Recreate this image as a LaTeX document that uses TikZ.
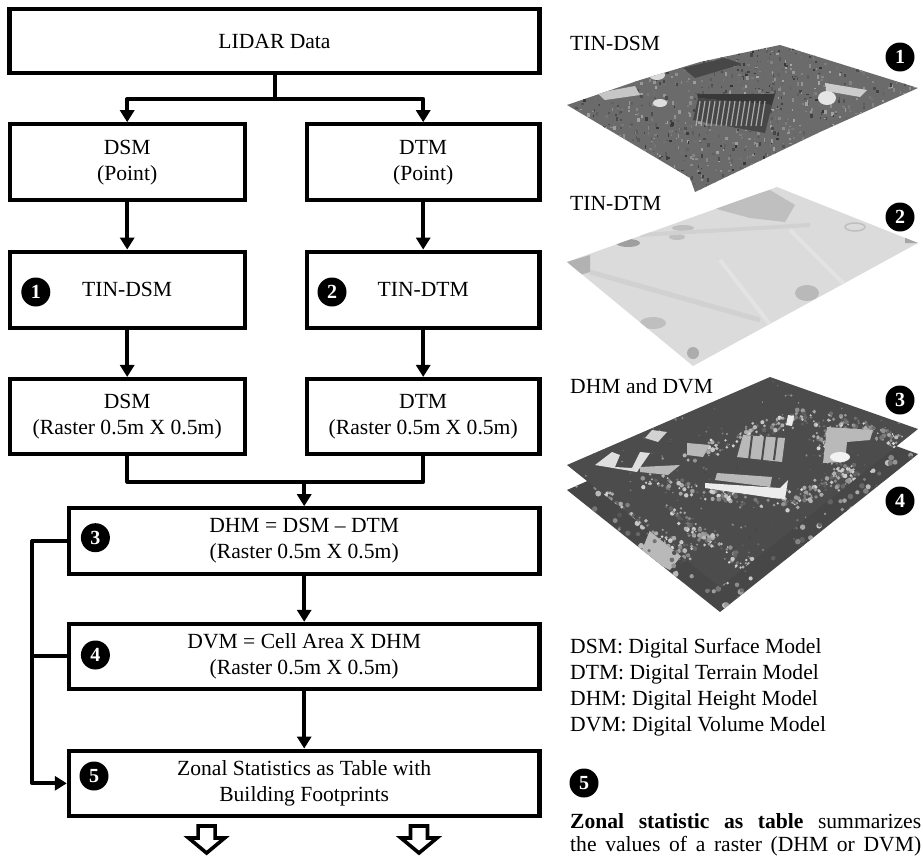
\documentclass[tikz,border=0pt]{standalone}
\usepackage{fontspec}
\setmainfont{Liberation Serif}
\usetikzlibrary{arrows.meta, positioning}

\begin{document}
\begin{tikzpicture}[x=1pt, y=-1pt,
    stepbox/.style={draw, line width=4.2pt, align=center, inner sep=0pt,
      font=\fontsize{21.6}{26}\selectfont},
    badge/.style={circle, fill=black, text=white, inner sep=0pt, minimum size=29pt,
      font=\fontsize{20}{20}\selectfont\bfseries},
    caption/.style={anchor=west, inner sep=0pt, align=left,
      font=\fontsize{21.6}{26}\selectfont},
    link/.style={line width=4pt, line join=round},
    flow/.style={link, -{Triangle[width=14pt, length=12pt]}},
    hollow/.style={draw=black, line width=3.6pt, fill=white, line join=miter}]
  \useasboundingbox (0,0) rectangle (923,857);
  % Boxes
  \node[stepbox, minimum width=530pt, minimum height=63.7pt] (lidar) at (274.5,41) {LIDAR Data};
  \node[stepbox, minimum width=235.2pt, minimum height=76pt] (dsmpoint) at (127.2,162.3) {DSM\\(Point)};
  \node[stepbox, minimum width=232.7pt, minimum height=76pt] (dtmpoint) at (423.2,162.3) {DTM\\(Point)};
  \node[stepbox, minimum width=235.2pt, minimum height=76pt] (tindsm) at (127.2,289.7) {TIN-DSM};
  \node[stepbox, minimum width=232.7pt, minimum height=76pt] (tindtm) at (423.2,289.7) {TIN-DTM};
  \node[stepbox, minimum width=235.2pt, minimum height=75.3pt] (dsmraster) at (127.2,416.7) {DSM\\(Raster 0.5m X 0.5m)};
  \node[stepbox, minimum width=232.7pt, minimum height=75.3pt] (dtmraster) at (423.2,416.7) {DTM\\(Raster 0.5m X 0.5m)};
  \node[stepbox, minimum width=470.6pt, minimum height=65.4pt] (dhm) at (304.2,541) {DHM = DSM -- DTM\\(Raster 0.5m X 0.5m)};
  \node[stepbox, minimum width=470.6pt, minimum height=64.7pt] (dvm) at (304.2,656.3) {DVM = Cell Area X DHM\\(Raster 0.5m X 0.5m)};
  \node[stepbox, minimum width=470.6pt, minimum height=65.3pt] (zonal) at (304.2,783.3) {Zonal Statistics as Table with\\Building Footprints};
  % Badges in the boxes
  \node[badge] (numA) at (35.8,292) {1};
  \node[badge] (numB) at (332,292) {2};
  \node[badge] (numC) at (95.4,537.7) {3};
  \node[badge] (numD) at (95.4,655) {4};
  \node[badge] (numE) at (94,776) {5};
  % Connectors
  \coordinate (split) at (274.5,99);
  \coordinate (merge) at (304.2,481.7);
  \coordinate (busTop) at (32.4,541);
  \coordinate (busEnd) at (32.4,783.3);
  \draw[link] (lidar) -- (split);
  \draw[flow] (split) -| (dsmpoint);
  \draw[flow] (split) -| (dtmpoint);
  \draw[flow] (dsmpoint) -- (tindsm);
  \draw[flow] (dtmpoint) -- (tindtm);
  \draw[flow] (tindsm) -- (dsmraster);
  \draw[flow] (tindtm) -- (dtmraster);
  \draw[link] (dsmraster) |- (merge);
  \draw[link] (dtmraster) |- (merge);
  \draw[flow] (merge) -- (dhm);
  \draw[flow] (dhm) -- (dvm);
  \draw[flow] (dvm) -- (zonal);
  \draw[flow] (dhm.west) -- (busTop) -- (busEnd) -- (zonal.west);
  \draw[link] (dvm.west) -- (dvm.west -| busTop);
  % Hollow arrows under the last box
  \foreach \x in {206.6,419}
    \draw[hollow] (\x-8.5,826) -- (\x+8.5,826) -- (\x+8.5,838) -- (\x+18,838)
      -- (\x,853) -- (\x-18,838) -- (\x-8.5,838) -- cycle;
  % TIN-DSM map
  \pgfmathsetseed{11}
  \begin{scope}
    \clip (567,105) -- (640,80) -- (700,62) -- (780,45) -- (918,88) -- (820,132) -- (695,192) -- (690,178) -- cycle;
    \fill[black!58] (560,40) rectangle (925,195);
    \foreach \i in {1,...,1400} {
      \pgfmathtruncatemacro\shade{35+rnd*45}
      \fill[black!\shade] (567+351*rnd,45+147*rnd) rectangle ++(1+2*rnd,1+3*rnd);
    }
    \fill[black!72] (683,68) -- (725,58) -- (742,64) -- (695,78) -- cycle;
    \fill[gray!40] (825,83) -- (867,90) -- (860,97) -- (826,91) -- cycle;
    \fill[gray!45] (597,93) -- (635,86) -- (640,95) -- (605,100) -- cycle;
    \fill[gray!25] (660,103) ellipse (7 and 4);
    \fill[gray!20] (827,98) ellipse (9 and 7);
    \fill[gray!30] (657,75) ellipse (8 and 5);
    \fill[black!78] (697,94) -- (775,94) -- (772,105) -- (698,98) -- cycle;
    \fill[black!72] (698,98) -- (772,105) -- (765,133) -- (693,120) -- cycle;
    \foreach \x in {700,705,...,768}
      \draw[gray!65, line width=1.2pt] (\x,101) -- (\x-4,126);
  \end{scope}
  % TIN-DTM map
  \begin{scope}
    \clip (567,262) -- (777,187) -- (918,243) -- (693,366) -- cycle;
    \fill[gray!28] (560,185) rectangle (925,370);
    \fill[gray!50] (713,208) -- (770,190) -- (795,205) -- (785,222) -- (750,218) -- cycle;
    \fill[gray!60] (567,262) -- (590,255) -- (590,272) -- (580,275) -- cycle;
    \fill[gray!75] (628,243) ellipse (12 and 4);
    \fill[gray!50] (683,228) ellipse (11 and 3);
    \fill[gray!50] (677,237) ellipse (8 and 3);
    \draw[gray!50, line width=1.5pt] (855,227) ellipse (10 and 4);
    \fill[gray!55] (807,293) ellipse (12 and 8);
    \fill[gray!50] (653,323) ellipse (13 and 6);
    \fill[gray!65] (693,353) ellipse (6 and 6);
    \fill[gray!70] (905,243) -- (918,243) -- (905,235) -- cycle;
    \draw[gray!36, line width=5pt] (590,272) -- (760,320);
    \draw[gray!36, line width=4pt] (640,235) -- (810,225);
    \draw[gray!22, line width=4pt] (720,260) -- (790,350);
    \draw[gray!22, line width=4pt] (790,230) -- (860,300);
  \end{scope}
  % DVM map
  \pgfmathsetseed{23}
  \begin{scope}
    \clip (567,490) -- (770,400) -- (918,454) -- (720,612) -- cycle;
    \fill[black!72] (560,395) rectangle (925,615);
    \fill[gray!55] (650,530) -- (690,545) -- (670,570) -- (640,555) -- cycle;
    \foreach \i in {1,...,500} {
      \pgfmathtruncatemacro\shade{20+rnd*55}
      \fill[black!\shade] (567+351*rnd,454+158*rnd) circle (1+2*rnd);
    }
  \end{scope}
  % DHM map
  \pgfmathsetseed{37}
  \begin{scope}
    \clip (567,465) -- (770,377) -- (918,429) -- (720,587) -- cycle;
    \fill[black!70] (560,375) rectangle (925,590);
    \foreach \i in {1,...,300} {
      \pgfmathtruncatemacro\shade{40+rnd*35}
      \fill[black!\shade] (567+351*rnd,380+205*rnd) circle (0.6+0.8*rnd);
    }
    % tree belts
    \foreach \xa/\ya/\xb/\yb in {690/457/810/412, 805/415/880/520, 640/480/790/505,
        790/500/860/470, 670/510/760/575, 830/420/915/445, 590/490/690/555} {
      \foreach \i in {1,...,110} {
        \pgfmathsetmacro\pos{rnd}
        \pgfmathtruncatemacro\shade{15+rnd*50}
        \fill[black!\shade] (\xa+\pos*\xb-\pos*\xa+16*rnd-8,\ya+\pos*\yb-\pos*\ya+16*rnd-8) circle (0.8+1.6*rnd);
      }
    }
    \fill[gray!55] (717,473) -- (772,477) -- (770,487) -- (715,480) -- cycle;
    \fill[gray!15] (705,483) -- (780,488) -- (788,480) -- (785,499) -- (773,498) -- (705,488) -- cycle;
    \fill[gray!25] (595,465) -- (612,452) -- (620,455) -- (615,467) -- (632,468) -- (640,452) -- (650,453) -- (637,472) -- cycle;
    \fill[gray!55] (640,467) -- (680,465) -- (668,475) -- (640,472) -- cycle;
    \fill[gray!35] (645,438) -- (652,430) -- (667,432) -- (658,442) -- cycle;
    \fill[gray!55] (687,443) -- (710,445) -- (703,457) -- (687,455) -- cycle;
    \fill[gray!55] (743,435) -- (785,438) -- (782,462) -- (737,457) -- cycle;
    \foreach \x in {752,765,777}
      \draw[black!70, line width=2pt] (\x,436) -- (\x-3,460);
    \fill[gray!55] (827,427) -- (873,430) -- (870,440) -- (847,442) -- (845,462) -- (823,463) -- cycle;
    \fill[gray!10] (840,457) ellipse (10 and 5);
    \fill[gray!15] (788,415) -- (794,416) -- (792,426) -- (786,425) -- cycle;
  \end{scope}
  % Right column
  \node[caption] (capDsm) at (570,43) {TIN-DSM};
  \node[caption] (capDtm) at (570,203) {TIN-DTM};
  \node[caption] (capDhm) at (570,386) {DHM and DVM};
  \node[badge] (mapA) at (900,57) {1};
  \node[badge] (mapB) at (900,217) {2};
  \node[badge] (mapC) at (900,400) {3};
  \node[badge] (mapD) at (900,501) {4};
  \node[caption] (legend) at (570,687) {DSM: Digital Surface Model\\DTM: Digital Terrain Model\\DHM: Digital Height Model\\DVM: Digital Volume Model};
  \node[badge] (mapE) at (584,783) {5};
  \node[caption] (noteA) at (570,821) {\makebox[351pt][s]{\textbf{Zonal statistic as table} summarizes}};
  \node[caption] (noteB) at (570,846) {\makebox[351pt][s]{the values of a raster (DHM or DVM)}};
\end{tikzpicture}
\end{document}
